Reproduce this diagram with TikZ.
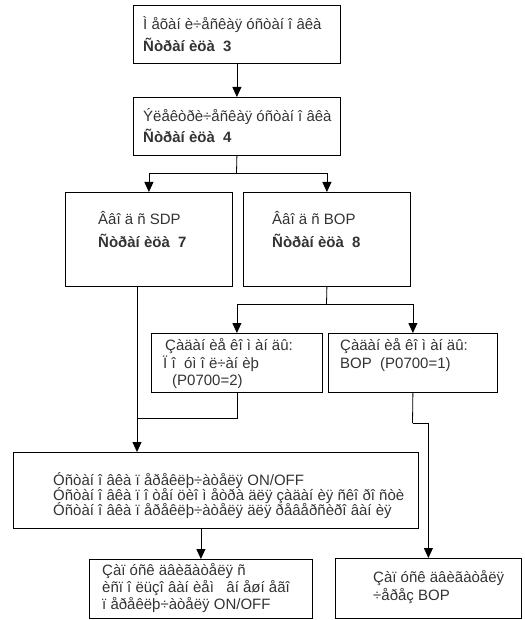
\documentclass[tikz,border=0pt]{standalone}
\usepackage{fontspec}
\setmainfont{Liberation Sans}
\usetikzlibrary{arrows.meta}
\begin{document}
\begin{tikzpicture}[x=1pt,y=-1pt,
  box/.style={draw=black,line width=0.8pt,inner sep=0pt,anchor=north west},
  tl/.style={anchor=base west,inner sep=0pt,text=black!80,font=\fontsize{15}{17}\selectfont},
  tb/.style={tl,font=\fontsize{15}{17}\selectfont\bfseries},
  ln/.style={draw=black,line width=0.8pt},
  arr/.style={ln,-{Triangle[length=10pt,width=9pt]}}]
\useasboundingbox (0,0) rectangle (524,620);

% boxes
\node[box,minimum width=207pt,minimum height=58pt] (b1) at (133,5) {};
\node[box,minimum width=207pt,minimum height=58pt] (b2) at (133,97) {};
\node[box,minimum width=167pt,minimum height=94pt] (b3) at (65,192) {};
\node[box,minimum width=167pt,minimum height=94pt] (b4) at (243,192) {};
\node[box,minimum width=171pt,minimum height=59pt] (b5) at (151,333) {};
\node[box,minimum width=169pt,minimum height=59pt] (b6) at (328,333) {};
\node[box,minimum width=405pt,minimum height=76pt] (b7) at (13,452) {};
\node[box,minimum width=223pt,minimum height=59pt] (b8) at (89,559) {};
\node[box,minimum width=186pt,minimum height=60pt] (b9) at (335,558) {};

% texts
\node[tl] (t1a) at (143,30) {Ì åõàí è÷åñêàÿ óñòàí î âêà};
\node[tb] (t1b) at (143,52) {Ñòðàí èöà~~3};
\node[tl] (t2a) at (143,122) {Ýëåêòðè÷åñêàÿ óñòàí î âêà};
\node[tb] (t2b) at (143,143) {Ñòðàí èöà~~4};
\node[tl] (t3a) at (98,225) {Ââî ä ñ SDP};
\node[tb] (t3b) at (98,247) {Ñòðàí èöà~~7};
\node[tl] (t4a) at (272,225) {Ââî ä ñ BOP};
\node[tb] (t4b) at (272,247) {Ñòðàí èöà~~8};
\node[tl] (t5a) at (165,350) {Çàäàí èå êî ì àí äû:};
\node[tl] (t5b) at (163,368) {Ï î~~óì î ë÷àí èþ};
\node[tl] (t5c) at (172,385) {(P0700=2)};
\node[tl] (t6a) at (340,350) {Çàäàí èå êî ì àí äû:};
\node[tl] (t6b) at (340,368) {BOP~~(P0700=1)};
\node[tl] (t7a) at (53,485) {Óñòàí î âêà ï åðåêëþ÷àòåëÿ ON/OFF};
\node[tl] (t7b) at (53,500) {Óñòàí î âêà ï î òåí öèî ì åòðà äëÿ çàäàí èÿ ñêî ðî ñòè};
\node[tl] (t7c) at (53,515) {Óñòàí î âêà ï åðåêëþ÷àòåëÿ äëÿ ðåâåðñèðî âàí èÿ};
\node[tl] (t8a) at (102,575) {Çàï óñê äâèãàòåëÿ ñ};
\node[tl] (t8b) at (102,592) {èñï î ëüçî âàí èåì~~~âí åøí åãî};
\node[tl] (t8c) at (102,609) {ï åðåêëþ÷àòåëÿ ON/OFF};
\node[tl] (t9a) at (373,582) {Çàï óñê äâèãàòåëÿ};
\node[tl] (t9b) at (373,600) {÷åðåç BOP};

% connectors
\draw[arr] (b1.south) -- (b2.north);
\coordinate (s1) at (236.5,173);
\draw[ln] (b2.south) -- (s1);
\draw[arr] (s1) -| (b3.north);
\draw[arr] (s1) -| (b4.north);
\coordinate (s2) at (326.5,304);
\draw[ln] (b4.south) -- (s2);
\draw[arr] (s2) -| (b5.north);
\draw[arr] (s2) -| (b6.north);
\coordinate (j1) at (137,418);
\draw[arr] (b3.south -| j1) -- (b7.north -| j1);
\draw[ln] (b5.south) |- (j1);
\draw[arr] (b7.south -| b8.north) -- (b8.north);
\coordinate (k1) at (412.5,423);
\draw[ln] (b6.south) -- (k1);
\draw[arr] (k1) -| (b9.north);
\end{tikzpicture}
\end{document}
